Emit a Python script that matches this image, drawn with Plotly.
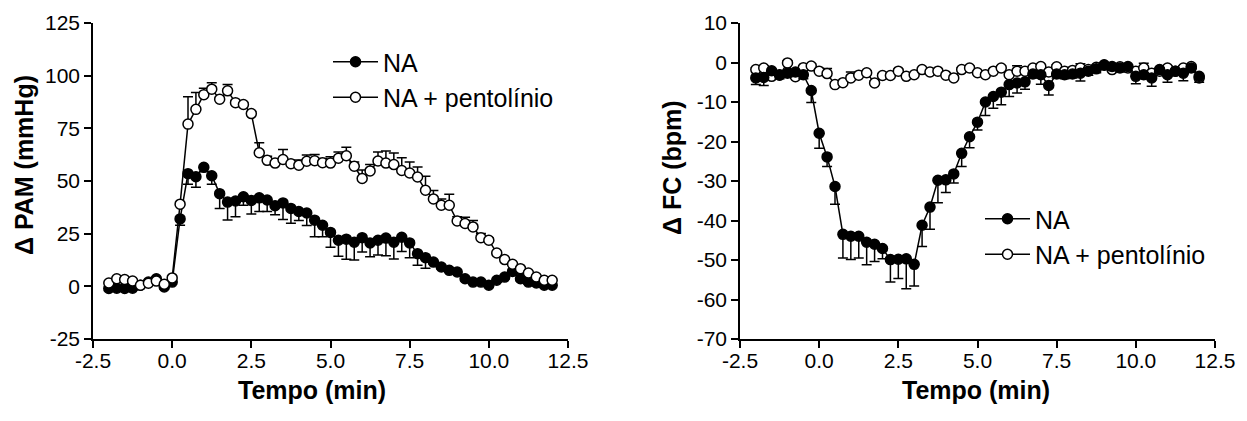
import plotly.graph_objects as go

# ---------------- data ----------------
tempo = [-2.0, -1.75, -1.5, -1.25, -1.0, -0.75, -0.5, -0.25, 0.0, 0.25, 0.5, 0.75,
         1.0, 1.25, 1.5, 1.75, 2.0, 2.25, 2.5, 2.75, 3.0, 3.25, 3.5, 3.75,
         4.0, 4.25, 4.5, 4.75, 5.0, 5.25, 5.5, 5.75, 6.0, 6.25, 6.5, 6.75,
         7.0, 7.25, 7.5, 7.75, 8.0, 8.25, 8.5, 8.75, 9.0, 9.25, 9.5, 9.75,
         10.0, 10.25, 10.5, 10.75, 11.0, 11.25, 11.5, 11.75, 12.0]

# Left panel: delta PAM (mmHg)
pam_na = [-1.0, -0.9, -1.0, -0.9, 0.5, 2.0, 3.6, -0.3, 2.0, 32.0, 53.5, 52.0,
          56.5, 52.5, 44.0, 40.0, 40.5, 42.5, 40.8, 42.0, 41.0, 38.3, 39.6, 37.0,
          35.5, 34.8, 31.4, 29.0, 25.6, 21.9, 22.4, 20.9, 23.1, 20.6, 21.9, 22.9,
          20.9, 23.3, 20.6, 15.5, 13.6, 11.5, 9.2, 7.6, 6.8, 3.6, 2.0, 2.0,
          0.5, 2.9, 4.4, 7.1, 3.6, 2.0, 1.6, 0.5, 0.5]
pam_na_err = [1, 1, 1, 1, 1, 1, 1, 1, 1, 3, 5, 5,
              2, 4, 7, 8.5, 7.5, 4, 6.5, 6.5, 5.5, 4.3, 7.9, 7,
              4.3, 5.9, 7.9, 5.5, 7, 7.6, 9.5, 8.4, 6.8, 6.6, 7, 8.4,
              7.9, 6.8, 7, 5.5, 5, 1, 1, 1, 1, 1, 1, 1,
              1, 1, 1, 1, 1, 1, 1, 1, 1]
pam_pento = [1.6, 3.6, 3.2, 2.5, 0.5, 1.5, 2.5, 1.0, 4.0, 39.0, 77.0, 84.0,
             91.0, 93.6, 88.8, 92.8, 87.2, 86.3, 82.0, 63.4, 59.8, 58.5, 60.2, 58.2,
             57.5, 59.4, 59.6, 58.7, 58.5, 60.8, 62.0, 57.0, 51.2, 54.8, 59.5, 58.5,
             57.8, 55.0, 53.8, 51.9, 45.6, 41.5, 38.5, 38.5, 31.0, 29.8, 28.2, 23.1,
             21.9, 15.8, 12.7, 10.5, 8.4, 6.3, 4.4, 2.9, 2.9]
pam_pento_err = [0.5, 0.5, 0.5, 0.5, 0.5, 0.5, 0.5, 0.5, 0.5, 0.5, 13, 8,
                 3, 3, 1, 3, 1, 1, 1, 4.8, 2, 1, 4.8, 1,
                 2.5, 3, 3, 2, 3, 3, 4, 2, 4, 3, 4.3, 5.7,
                 5.5, 6, 5.2, 4.8, 6.7, 4, 3, 5.2, 2, 3, 3, 2,
                 1, 0.5, 0.5, 0.5, 0.5, 0.5, 0.5, 0.5, 0.5]

# Right panel: delta FC (bpm)
fc_na = [-3.9, -3.8, -2.1, -3.1, -2.7, -2.4, -3.1, -7.1, -17.9, -23.9, -31.4, -43.5,
         -44.0, -44.0, -45.5, -46.0, -47.1, -49.9, -49.8, -49.7, -51.1, -41.2, -36.6, -29.8,
         -29.7, -28.2, -23.0, -18.8, -15.1, -10.0, -8.6, -7.5, -5.6, -5.2, -4.9, -2.9,
         -3.1, -5.8, -2.9, -3.1, -2.9, -2.7, -2.2, -1.6, -0.7, -1.0, -1.4, -1.0,
         -3.5, -3.1, -3.9, -1.8, -3.1, -2.2, -2.7, -1.4, -3.5]
fc_na_err = [1.7, 2, 1, 1, 1, 1, 1, 3, 3.8, 2.4, 4.5, 6,
             5.9, 5.5, 5.7, 4.4, 2.6, 5.7, 4.9, 7.6, 5.5, 5.4, 5.6, 5.7,
             3.2, 2.3, 3.3, 2.8, 2, 3.4, 3, 3.2, 3, 2.5, 1.9, 1,
             2.4, 2.4, 1, 1, 1, 2, 1, 1, 1, 1, 1, 1,
             1.9, 1, 2.1, 1, 1.9, 1, 1.9, 1, 1.5]
fc_pento = [-1.8, -1.4, -3.5, -3.2, -0.1, -3.6, -1.3, -0.9, -2.2, -2.8, -5.6, -5.1,
            -3.9, -3.2, -2.6, -5.2, -3.3, -3.3, -2.2, -3.5, -3.1, -1.8, -2.4, -2.2,
            -3.2, -3.9, -1.8, -1.4, -2.6, -3.1, -2.2, -1.4, -3.1, -2.2, -2.2, -1.4,
            -1.0, -2.4, -1.1, -2.2, -2.0, -1.4, -1.8, -1.2, -0.6, -1.8, -1.1, -1.4,
            -2.2, -1.4, -2.7, -2.2, -1.4, -2.2, -1.4, -1.0, -3.9]
fc_pento_err = [0.5, 0.5, 0.5, 0.5, 0.5, 0.5, 0.5, 0.5, 0.5, 1.3, 0.5, 0.5,
                1.5, 0.5, 0.5, 0.5, 0.5, 0.5, 0.5, 0.5, 0.5, 0.5, 0.5, 0.5,
                0.5, 0.5, 0.5, 0.5, 0.5, 0.5, 0.5, 0.5, 0.5, 1.4, 0.5, 0.5,
                0.5, 0.5, 0.5, 0.5, 0.5, 1.1, 0.5, 0.5, 0.5, 0.5, 0.5, 0.5,
                0.5, 1.2, 0.5, 0.5, 0.5, 0.5, 0.5, 0.5, 0.5]

series_names = ["NA", "NA + pentolínio"]
x_ticks = [-2.5, 0.0, 2.5, 5.0, 7.5, 10.0, 12.5]
x_ticktext = ["-2.5", "0.0", "2.5", "5.0", "7.5", "10.0", "12.5"]
pam_ticks = [-25, 0, 25, 50, 75, 100, 125]
pam_ticktext = ["-25", "0", "25", "50", "75", "100", "125"]
fc_ticks = [-70, -60, -50, -40, -30, -20, -10, 0, 10]
fc_ticktext = ["-70", "-60", "-50", "-40", "-30", "-20", "-10", "0", "10"]

# ---------------- figure ----------------
W, H = 1247, 421
FONT = "Liberation Sans, Arial, Helvetica, sans-serif"
zeros = [0] * len(tempo)


def trace(x, y, err, filled, name, xa, ya, legend, rank, down):
    return go.Scatter(
        x=x, y=y, name=name, mode="lines+markers",
        xaxis=xa, yaxis=ya, legend=legend, legendrank=rank,
        line=dict(color="black", width=1.5),
        marker=dict(size=10, symbol="circle",
                    color="black" if filled else "white",
                    line=dict(color="black", width=1.5)),
        error_y=dict(type="data", symmetric=False,
                     array=zeros if down else err,
                     arrayminus=err if down else zeros,
                     color="black", thickness=1.5, width=5),
        cliponaxis=False,
    )


fig = go.Figure()
# left panel: NA then NA + pentolinio (open on top)
fig.add_trace(trace(tempo, pam_na, pam_na_err, True, series_names[0], "x", "y", "legend", 1, True))
fig.add_trace(trace(tempo, pam_pento, pam_pento_err, False, series_names[1], "x", "y", "legend", 2, False))
# right panel: open drawn first, NA on top
fig.add_trace(trace(tempo, fc_pento, fc_pento_err, False, series_names[1], "x2", "y2", "legend2", 2, False))
fig.add_trace(trace(tempo, fc_na, fc_na_err, True, series_names[0], "x2", "y2", "legend2", 1, True))

axis_style = dict(showline=True, linecolor="black", linewidth=1.5,
                  ticks="outside", ticklen=7, tickwidth=1.5, tickcolor="black",
                  showgrid=False, zeroline=False, automargin=False,
                  tickfont=dict(family=FONT, size=21, color="black"))

ydom = [1 - 339 / H, 1 - 23 / H]
fig.update_layout(
    width=W, height=H,
    margin=dict(l=0, r=0, t=0, b=0, pad=0, autoexpand=False),
    paper_bgcolor="white", plot_bgcolor="white",
    font=dict(family=FONT, color="black"),
    xaxis=dict(domain=[93 / W, 568 / W], range=[-2.5, 12.5], anchor="y",
               tickmode="array", tickvals=x_ticks, ticktext=x_ticktext,
               ticklabelstandoff=-5, **axis_style),
    yaxis=dict(domain=ydom, range=[-25, 125], anchor="x",
               tickmode="array", tickvals=pam_ticks, ticktext=pam_ticktext, **axis_style),
    xaxis2=dict(domain=[740 / W, 1215 / W], range=[-2.5, 12.5], anchor="y2",
                tickmode="array", tickvals=x_ticks, ticktext=x_ticktext,
                ticklabelstandoff=-5, **axis_style),
    yaxis2=dict(domain=ydom, range=[-70, 10], anchor="x2",
                tickmode="array", tickvals=fc_ticks, ticktext=fc_ticktext, **axis_style),
    legend=dict(x=328 / W, y=1 - 39 / H, xanchor="left", yanchor="top",
                font=dict(family=FONT, size=25, color="black"),
                itemwidth=45, bgcolor="rgba(0,0,0,0)", traceorder="normal"),
    legend2=dict(x=980 / W, y=1 - 196 / H, xanchor="left", yanchor="top",
                 font=dict(family=FONT, size=25, color="black"),
                 itemwidth=45, bgcolor="rgba(0,0,0,0)", traceorder="normal"),
    showlegend=True,
)

title_font = dict(family=FONT, size=25, color="black", weight="bold")
fig.add_annotation(text="Tempo (min)", xref="paper", yref="paper",
                   x=312 / W, y=1 - 390 / H, showarrow=False, font=title_font,
                   xanchor="center", yanchor="middle")
fig.add_annotation(text="Tempo (min)", xref="paper", yref="paper",
                   x=976 / W, y=1 - 390 / H, showarrow=False, font=title_font,
                   xanchor="center", yanchor="middle")
fig.add_annotation(text="Δ PAM (mmHg)", xref="paper", yref="paper",
                   x=24 / W, y=1 - 165 / H, showarrow=False, font=title_font,
                   textangle=-90, xanchor="center", yanchor="middle")
fig.add_annotation(text="Δ FC (bpm)", xref="paper", yref="paper",
                   x=672 / W, y=1 - 168 / H, showarrow=False, font=title_font,
                   textangle=-90, xanchor="center", yanchor="middle")

fig.write_html("out.html")
